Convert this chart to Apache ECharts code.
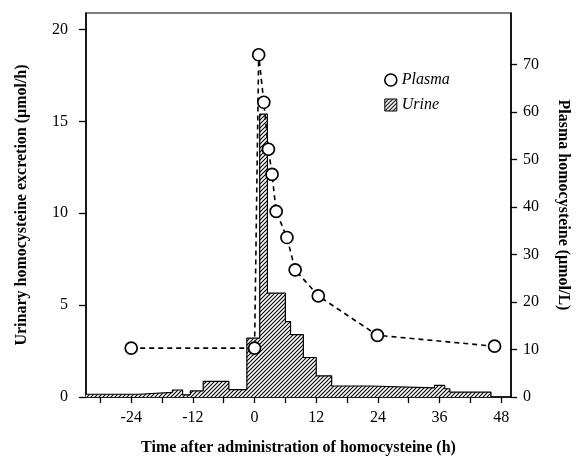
<!DOCTYPE html>
<html>
<head>
<meta charset="utf-8">
<script src="https://cdn.jsdelivr.net/npm/echarts@6/dist/echarts.min.js"></script>
<style>
html,body{margin:0;padding:0;background:#fff;}
#chart{width:579px;height:461px;}
</style>
</head>
<body>
<div id="chart"></div>
<script>
// Urine excretion histogram (µmol/h): bin edges in hours and bin heights
var binEdges = [-33, -22.5, -16, -14, -12.5, -10, -5, -1.5, 1, 2.5, 6, 7, 9.5, 12, 15, 22.5, 35, 37, 38, 46];
var urineValues = [0.15, 0.25, 0.38, 0.12, 0.33, 0.85, 0.4, 3.2, 15.4, 5.65, 4.1, 3.4, 2.15, 1.15, 0.6, 0.5, 0.63, 0.45, 0.26];

// Plasma homocysteine (µmol/L)
var plasmaTimes = [-24, 0, 0.8, 1.8, 2.7, 3.4, 4.2, 6.3, 7.9, 12.4, 23.9, 46.7];
var plasmaValues = [10.3, 10.3, 72.1, 62.1, 52.2, 46.9, 39.1, 33.6, 26.8, 21.3, 13.0, 10.7];

// Tick values / labels
var xTicks = [-30, -24, -18, -12, -6, 0, 6, 12, 18, 24, 30, 36, 42, 48];
var xLabels = [-24, -12, 0, 12, 24, 36, 48];
var leftTicks = [0, 5, 10, 15, 20];
var rightTicks = [0, 10, 20, 30, 40, 50, 60, 70];

// hatch pattern
var cv = document.createElement('canvas');
cv.width = 4; cv.height = 4;
var cx = cv.getContext('2d');
cx.fillStyle = '#fff'; cx.fillRect(0, 0, 4, 4);
cx.strokeStyle = '#000'; cx.lineWidth = 1.1;
cx.beginPath();
cx.moveTo(-1, 5); cx.lineTo(5, -1);
cx.moveTo(-1, 1); cx.lineTo(1, -1);
cx.moveTo(3, 5); cx.lineTo(5, 3);
cx.stroke();
var hatch = { image: cv, repeat: 'repeat' };

// histogram outline points built from bins
var histPts = [[binEdges[0], 0]];
for (var i = 0; i < urineValues.length; i++) {
  histPts.push([binEdges[i], urineValues[i]]);
  histPts.push([binEdges[i + 1], urineValues[i]]);
}
histPts.push([binEdges[binEdges.length - 1], 0]);

var plasmaData = plasmaTimes.map(function (t, i) { return [t, plasmaValues[i]]; });

var serif = '"Liberation Serif", "DejaVu Serif", serif';
var axisLineStyle = { color: '#000', width: 1.5 };

var chart = echarts.init(document.getElementById('chart'), null, { renderer: 'canvas' });
chart.setOption({
  animation: false,
  backgroundColor: '#fff',
  grid: { left: 86, right: 65, top: 13, bottom: 64, show: true, borderColor: '#000', borderWidth: 1.2, backgroundColor: 'transparent' },
  legend: {
    orient: 'vertical', left: 379, top: 67, itemGap: 9, itemWidth: 12, itemHeight: 12,
    textStyle: { fontFamily: serif, fontStyle: 'italic', fontSize: 16, color: '#000' },
    data: [
      { name: 'Plasma', icon: 'circle', itemStyle: { color: '#fff', borderColor: '#000', borderWidth: 1.6 } },
      { name: 'Urine', icon: 'rect', itemStyle: { color: hatch, borderColor: '#000', borderWidth: 1 } }
    ]
  },
  xAxis: {
    type: 'value', min: -32.8, max: 49.9,
    name: 'Time after administration of homocysteine (h)', nameLocation: 'middle', nameGap: 43,
    nameTextStyle: { fontFamily: serif, fontWeight: 'bold', fontSize: 16, color: '#000' },
    axisLine: { onZero: false, lineStyle: axisLineStyle },
    axisTick: { show: true, length: 6, lineStyle: { color: '#000', width: 1.3 }, customValues: xTicks },
    axisLabel: { customValues: xLabels, margin: 13, fontFamily: serif, fontSize: 16, color: '#000' },
    splitLine: { show: false }
  },
  yAxis: [
    {
      type: 'value', min: 0, max: 20.9, position: 'left',
      name: 'Urinary homocysteine excretion (\u03bcmol/h)', nameLocation: 'middle', nameGap: 56,
      nameTextStyle: { fontFamily: serif, fontWeight: 'bold', fontSize: 16, color: '#000' },
      axisLine: { show: true, onZero: false, lineStyle: axisLineStyle },
      axisTick: { show: true, length: 7, lineStyle: { color: '#000', width: 1.3 }, customValues: leftTicks },
      axisLabel: { customValues: leftTicks, margin: 18, fontFamily: serif, fontSize: 16, color: '#000' },
      splitLine: { show: false }
    },
    {
      type: 'value', min: 0, max: 80.9, position: 'right',
      name: 'Plasma homocysteine (\u03bcmol/L)', nameLocation: 'middle', nameGap: 44, nameRotate: -90,
      nameTextStyle: { fontFamily: serif, fontWeight: 'bold', fontSize: 16, color: '#000' },
      axisLine: { show: true, onZero: false, lineStyle: axisLineStyle },
      axisTick: { show: true, length: 6, lineStyle: { color: '#000', width: 1.3 }, customValues: rightTicks },
      axisLabel: { customValues: rightTicks, margin: 12, fontFamily: serif, fontSize: 16, color: '#000' },
      splitLine: { show: false }
    }
  ],
  series: [
    {
      name: 'Urine', type: 'line', yAxisIndex: 0, data: histPts, showSymbol: false, symbol: 'none',
      lineStyle: { color: '#000', width: 1.2 }, itemStyle: { color: hatch },
      areaStyle: { color: hatch, opacity: 1, origin: 'start' }, z: 2, silent: true
    },
    {
      name: 'Plasma', type: 'line', yAxisIndex: 1, data: plasmaData,
      symbol: 'circle', symbolSize: 12, showSymbol: true,
      lineStyle: { color: '#000', width: 1.6, type: [5, 4] },
      itemStyle: { color: '#fff', borderColor: '#000', borderWidth: 1.7 }, z: 5
    }
  ]
});
</script>
</body>
</html>
